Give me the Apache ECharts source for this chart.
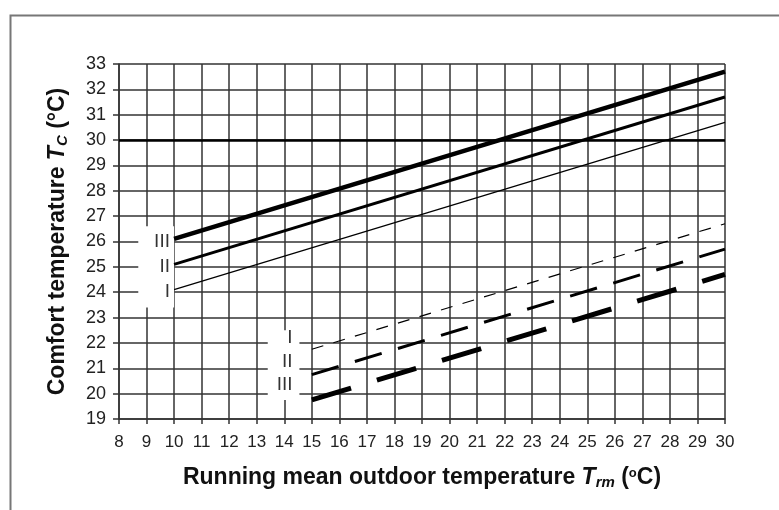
<!DOCTYPE html>
<html>
<head>
<meta charset="utf-8">
<script src="https://cdn.jsdelivr.net/npm/echarts@6/dist/echarts.min.js"></script>
<style>
html,body{margin:0;padding:0;background:#fff;}
#chart{width:779px;height:510px;}
</style>
</head>
<body>
<div id="chart"></div>
<script>
// ---- data ----
const xTicks = [8, 30];            // x axis range (Trm, °C)
const yTicks = [19, 33];           // y axis range (Tc, °C)
const upperX = [10, 30];
const upperI = [24.1, 30.7];
const upperII = [25.1, 31.7];
const upperIII = [26.1, 32.7];
const lowerX = [15, 30];
const lowerI = [21.75, 26.7];
const lowerII = [20.75, 25.7];
const lowerIII = [19.75, 24.7];
const labelTexts = ['III', 'II', 'I', 'I', 'II', 'III'];
const labelX = [9.85, 9.85, 9.85, 14.3, 14.3, 14.3];
const labelY = [26, 25, 24, 22.2, 21.25, 20.35];
const refLineY = 30;

// ---- layout / style ----
const FONT = "'Liberation Sans', Arial, sans-serif";
const NARROW = "'Liberation Sans Narrow', 'Arial Narrow', 'Liberation Sans', sans-serif";
const boxes = [
  [[8.7, 26.6], [10.0, 23.4]],
  [[13.4, 22.5], [14.55, 19.75]]
];
const gridColor = '#333';

function pairs(xs, ys) { return xs.map((x, i) => [x, ys[i]]); }

const chart = echarts.init(document.getElementById('chart'), null, {renderer: 'canvas'});

const lineSeries = (data, width, type) => ({
  type: 'line', data: data, symbol: 'none', silent: true, z: 5,
  lineStyle: {color: '#000', width: width, type: type, cap: 'butt'}
});

const titleRich = {
  b: {fontFamily: FONT, fontWeight: 'bold', fontSize: 23, color: '#111', lineHeight: 26},
  i: {fontFamily: FONT, fontWeight: 'bold', fontStyle: 'italic', fontSize: 23, color: '#111', lineHeight: 26},
  s: {fontFamily: FONT, fontWeight: 'bold', fontStyle: 'italic', fontSize: 15, color: '#111', lineHeight: 26, padding: [9, 0, 0, 0]},
  sup: {fontFamily: FONT, fontWeight: 'bold', fontSize: 13, color: '#111', lineHeight: 26, padding: [0, 0, 9, 0]}
};

const option = {
  animation: false,
  backgroundColor: '#fff',
  grid: {left: 119, top: 64, right: 54, bottom: 91},
  graphic: [{
    type: 'rect', left: 8, top: 13, z: 100, silent: true,
    shape: {x: 0, y: 0, width: 900, height: 700},
    style: {fill: 'none', stroke: '#777', lineWidth: 2}
  }],
  xAxis: {
    type: 'value', min: xTicks[0], max: xTicks[1], interval: 1,
    name: '{b|Running mean outdoor temperature }{i|T}{s|rm}{b| (}{sup|o}{b|C)}',
    nameLocation: 'middle', nameGap: 46,
    nameTextStyle: {rich: titleRich},
    axisLine: {show: true, lineStyle: {color: gridColor, width: 1.5}},
    axisTick: {show: true, length: 5, lineStyle: {color: gridColor, width: 1.5}},
    axisLabel: {fontFamily: NARROW, fontSize: 17, color: '#222', margin: 15},
    splitLine: {show: true, lineStyle: {color: gridColor, width: 1.5}}
  },
  yAxis: {
    type: 'value', min: yTicks[0], max: yTicks[1], interval: 1,
    name: '{b|Comfort temperature }{i|T}{s|C}{b| (°C)}',
    nameLocation: 'middle', nameGap: 48, nameRotate: 90,
    nameTextStyle: {rich: titleRich},
    axisLine: {show: true, lineStyle: {color: gridColor, width: 1.5}},
    axisTick: {show: true, length: 6, lineStyle: {color: gridColor, width: 1.5}},
    axisLabel: {fontFamily: NARROW, fontSize: 18, color: '#222', margin: 13},
    splitLine: {show: true, lineStyle: {color: gridColor, width: 1.5}}
  },
  series: [
    {
      type: 'scatter', silent: true, z: 3,
      symbolSize: 0,
      data: labelTexts.map((t, i) => ({name: t, value: [labelX[i], labelY[i]]})),
      label: {
        show: true, position: 'left', distance: 0,
        formatter: p => p.name,
        fontFamily: FONT, fontSize: 19, color: '#000'
      },
      markArea: {
        silent: true,
        itemStyle: {color: '#fff', opacity: 1},
        data: boxes.map(b => [{coord: b[0]}, {coord: b[1]}])
      },
      markLine: {
        silent: true, symbol: 'none',
        label: {show: false},
        lineStyle: {color: '#000', width: 2.5, type: 'solid'},
        data: [{yAxis: refLineY}]
      }
    },
    lineSeries(pairs(upperX, upperI), 1.2, 'solid'),
    lineSeries(pairs(upperX, upperII), 3, 'solid'),
    lineSeries(pairs(upperX, upperIII), 4.5, 'solid'),
    lineSeries(pairs(lowerX, lowerI), 1.2, [12, 10.5]),
    lineSeries(pairs(lowerX, lowerII), 3, [28, 17]),
    lineSeries(pairs(lowerX, lowerIII), 5, [41, 27])
  ]
};
chart.setOption(option);
</script>
</body>
</html>
